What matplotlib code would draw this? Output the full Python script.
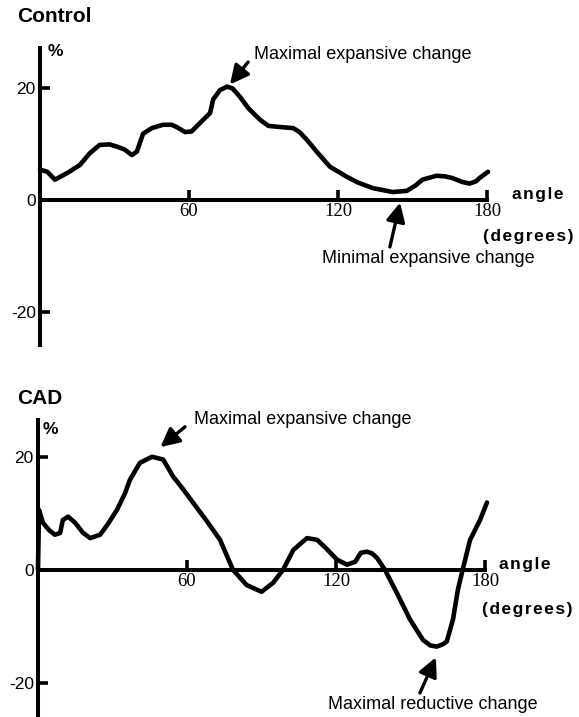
import matplotlib
matplotlib.use("Agg")
import matplotlib.pyplot as plt

plt.rcParams["axes.unicode_minus"] = False

# ── Data (angle in degrees, change in %) ─────────────────────────────────────

control_angle = [0, 3, 6, 11, 16, 20, 24, 28, 31, 34, 37, 39, 41.5, 45, 49.5, 53, 55,
                 58.4, 61, 64.4, 68.5, 69.7, 72.5, 75.3, 77.5, 80.5, 84, 88.6, 92, 96.6,
                 102, 104.5, 107.5, 112, 116.8, 123.6, 128, 134, 142, 147.7, 151, 154,
                 159.6, 163, 166, 170, 173, 175.5, 177, 180.4]
control_change = [5.4, 5.0, 3.6, 4.8, 6.2, 8.3, 9.8, 9.9, 9.5, 9.0, 8.0, 8.6, 11.8, 12.8,
                  13.4, 13.4, 13.0, 12.1, 12.2, 13.7, 15.5, 17.9, 19.6, 20.2, 19.9, 18.4,
                  16.3, 14.3, 13.2, 13.0, 12.8, 12.1, 10.7, 8.3, 5.9, 4.1, 3.1, 2.1, 1.4,
                  1.6, 2.5, 3.6, 4.3, 4.2, 3.9, 3.2, 2.9, 3.3, 3.9, 5.0]

cad_angle = [0, 0.4, 2, 4.5, 6.8, 8.9, 10, 12.1, 15, 18, 21, 25, 28, 31.8, 35, 37, 41,
             45.9, 50.4, 54.4, 58, 62.4, 68, 73.3, 78.5, 84, 90, 94.7, 98.7, 102.8, 108.3,
             112.4, 116, 120.4, 124.4, 127.7, 130, 132.4, 134.5, 136.5, 139.7, 144.5,
             149.8, 155, 158, 160.6, 163, 164.6, 167.1, 169.1, 171, 174, 178, 180.8]
cad_change = [0, 10.6, 8.3, 7.0, 6.2, 6.5, 8.8, 9.4, 8.3, 6.6, 5.6, 6.2, 8.0, 10.6, 13.5,
              15.9, 18.9, 20.0, 19.5, 16.5, 14.5, 11.9, 8.6, 5.3, 0, -2.7, -3.9, -2.3, 0,
              3.5, 5.6, 5.3, 3.8, 1.8, 0.9, 1.4, 3.0, 3.2, 2.9, 2.1, 0, -4.1, -8.8, -12.4,
              -13.4, -13.6, -13.2, -12.7, -8.8, -3.5, 0, 5.3, 8.8, 11.9]

x_ticks = [60, 120, 180]
y_ticks = [-20, 0, 20]

SANS = ["Liberation Sans", "DejaVu Sans"]
SERIF = "Liberation Serif"
HAIR = "\u200a"

W, H = 579, 717
fig = plt.figure(figsize=(W / 100, H / 100), dpi=100)


def px_axes(left, right, top, bottom):
    return fig.add_axes([left / W, 1 - bottom / H, (right - left) / W, (bottom - top) / H])


def style_axes(ax, ylim):
    ax.set_xlim(0, 180)
    ax.set_ylim(*ylim)
    for s in ["top", "right"]:
        ax.spines[s].set_visible(False)
    ax.spines["left"].set_linewidth(2.9)
    ax.spines["bottom"].set_position(("data", 0))
    ax.spines["bottom"].set_bounds(0, 180)
    ax.spines["bottom"].set_linewidth(2.9)
    ax.set_xticks(x_ticks)
    ax.set_yticks(y_ticks)
    ax.tick_params(direction="in", length=7, width=2.6)
    ax.tick_params(axis="x", pad=2, labelsize=13.5)
    ax.tick_params(axis="y", pad=3, labelsize=12.5)
    for lab in ax.get_xticklabels():
        lab.set_fontfamily(SERIF)
    for lab in ax.get_yticklabels():
        lab.set_fontfamily(SANS)
    ax.patch.set_alpha(0)


def annotate(ax, text, text_xy, tail, head):
    ax.annotate("", xy=head, xytext=tail, annotation_clip=False,
                arrowprops=dict(arrowstyle="-|>,head_length=0.6,head_width=0.3",
                                lw=2.4, color="black", shrinkA=0, shrinkB=0,
                                mutation_scale=19))
    ax.text(*text_xy, text, ha="center", va="center", fontsize=13,
            family=SANS, clip_on=False)


def axis_words(ax, angle_xy, deg_xy):
    ax.text(*angle_xy, HAIR.join("angle"), ha="left", va="center", fontsize=12.5,
            fontweight="bold", family=SANS, clip_on=False)
    ax.text(*deg_xy, HAIR.join("(degrees)"), ha="left", va="center", fontsize=12.5,
            fontweight="bold", family=SANS, clip_on=False)


# ── Control ──────────────────────────────────────────────────────────────────

ax1 = px_axes(40, 487, 48, 345)
style_axes(ax1, (-25.9, 27.1))
ax1.plot(control_angle, control_change, color="black", lw=3.3,
         solid_capstyle="round", solid_joinstyle="round", clip_on=False)
annotate(ax1, "Maximal expansive change", (129.9, 25.9), (83.8, 24.6), (76.5, 20.6))
annotate(ax1, "Minimal expansive change", (156.4, -10.4), (140.9, -8.4), (145, -0.5))
axis_words(ax1, (190, 0.9), (178.4, -6.6))
ax1.text(6, 26.5, "%", fontsize=12.5, fontweight="bold", family=SANS,
         ha="center", va="center", clip_on=False)
fig.text(17 / W, 1 - 17 / H, "Control", fontsize=15, fontweight="bold",
         family=SANS, ha="left", va="center")

# ── CAD ──────────────────────────────────────────────────────────────────────

ax2 = px_axes(38, 485, 420, 715)
style_axes(ax2, (-25.7, 26.5))
ax2.plot(cad_angle, cad_change, color="black", lw=3.3,
         solid_capstyle="round", solid_joinstyle="round", clip_on=False)
annotate(ax2, "Maximal expansive change", (106.5, 26.5), (59.2, 25.3), (49.3, 21.7))
annotate(ax2, "Maximal reductive change", (158.9, -23.9), (153.8, -21.8), (160.2, -15.5))
axis_words(ax2, (185.5, 0.9), (178.8, -7.1))
ax2.text(5, 24.8, "%", fontsize=12.5, fontweight="bold", family=SANS,
         ha="center", va="center", clip_on=False)
fig.text(17 / W, 1 - 398 / H, "CAD", fontsize=15, fontweight="bold",
         family=SANS, ha="left", va="center")

fig.savefig("out.png", dpi=100, facecolor="white")
